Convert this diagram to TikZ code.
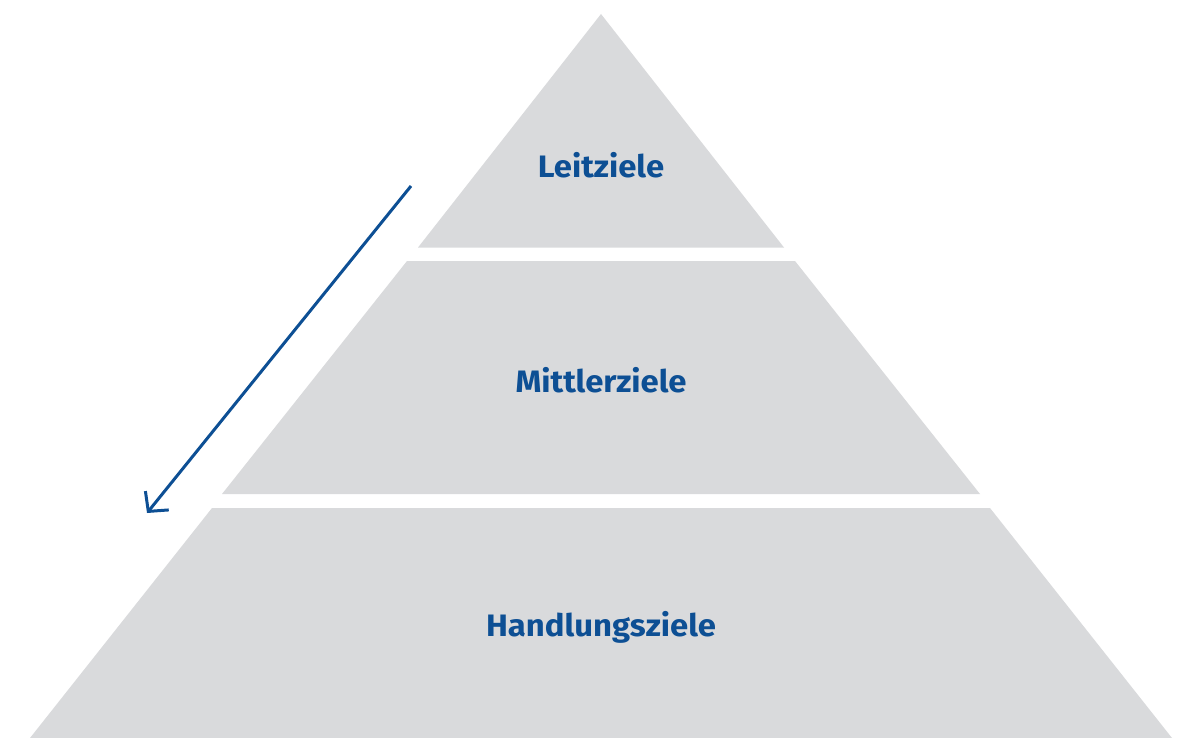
\documentclass[tikz,border=0pt]{standalone}
\usepackage{fontspec}
\setmainfont{Fira Sans}[FakeStretch=1.06]
\usetikzlibrary{calc, arrows.meta}
\definecolor{xgray}{HTML}{D9DADC}
\definecolor{xblue}{HTML}{0D4F94}
\tikzset{
	layer/.style = {fill=xgray},
	goal/.style = {text=xblue, font=\fontsize{31}{36}\selectfont\bfseries},
	order/.style = {#1, line width=3pt, -{Straight Barb[length=14pt, width=30pt]}},
}

\begin{document}
\begin{tikzpicture}[x=1pt, y=-1pt]
			\useasboundingbox (0,0) rectangle (1183,738);
			\coordinate (apex) at (601,14);
			\fill[layer] (apex) -- (784,247.5) -- (418,247.5) -- cycle;
			\fill[layer] (407,261) -- (795,261) -- (980,494) -- (222,494) -- cycle;
			\fill[layer] (212,508) -- (990,508) -- (1172,738) -- (30,738) -- cycle;
			\node[goal] (leit) at (601,165) {Leitziele};
			\node[goal] (mittler) at (601,380) {Mittlerziele};
			\node[goal] (handlung) at (601,627) {Handlungsziele};
			\coordinate (start) at (411,186);
			\coordinate (end) at (147,513);
			\draw[order={xblue}] (start) -- (end);
		\end{tikzpicture}
\end{document}
